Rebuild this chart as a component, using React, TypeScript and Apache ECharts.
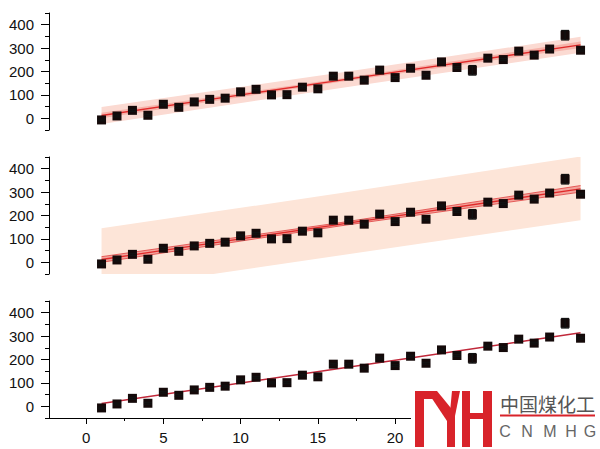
import React, { useEffect, useRef } from "react";
import * as echarts from "echarts";

// ---- data ----
const xs = [1, 2, 3, 4, 5, 6, 7, 8, 9, 10, 11, 12, 13, 14, 15, 16, 17, 18, 19, 20, 21, 22, 23, 24, 25, 26, 27, 28, 29, 30, 31, 32];
const ys = [-7, 10, 34, 13, 60, 47, 70, 81, 86, 113, 124, 100, 101, 133, 126, 180, 180, 163, 206, 174, 214, 184, 241, 217, 205, 257, 251, 287, 270, 296, 355, 291];
const errs = [4, 4, 4, 4, 4, 4, 4, 4, 4, 4, 4, 4, 4, 4, 4, 4, 4, 4, 4, 4, 4, 4, 4, 4, 20, 4, 4, 4, 4, 4, 20, 4];

const fitX = [1, 16.5, 32];
const fitY = [12, 163, 314];
const ciLow = [0, 156, 300];
const ciHigh = [24, 170, 328];
const pbTopLow = [-24, 130, 280];
const pbTopHigh = [48, 196, 348];
const pbMidLow = [-120, 30, 180];
const pbMidHigh = [145, 296, 452];

const xTicks = [0, 5, 10, 15, 20, 25, 30];
const xLabels = [0, 5, 10, 15, 20];
const xMinor = [2.5, 7.5, 12.5, 17.5, 22.5, 27.5, 32.5];
const yTicks = [0, 100, 200, 300, 400];
const yMinor = [-50, 50, 150, 250, 350, 450];

const FONT = "Liberation Sans, Arial, sans-serif";
const GRID_TOPS = [13, 157, 301];

function pairs(xa: number[], ya: number[]) {
  return xa.map((x, i) => [x, ya[i]]);
}

function bandSeries(g: number, low: number[], high: number[], color: string, z: number) {
  return {
    type: "custom", xAxisIndex: g * 2, yAxisIndex: g * 2, clip: true, silent: true, z,
    data: fitX.map((x, i) => [x, low[i], high[i]]),
    encode: { x: 0, y: [1, 2] },
    renderItem: (params: any, api: any) => {
      if (params.dataIndex !== 0) return null;
      const top = fitX.map((x, i) => api.coord([x, high[i]]));
      const bot = fitX.map((x, i) => api.coord([x, low[i]])).reverse();
      return { type: "polygon", shape: { points: top.concat(bot) }, style: { fill: color } };
    },
  };
}

function pointSeries(g: number) {
  return [
    {
      type: "scatter", xAxisIndex: g * 2, yAxisIndex: g * 2,
      data: pairs(xs, ys), symbol: "rect", symbolSize: 9,
      itemStyle: { color: "#140909", opacity: 1 }, z: 4,
    },
    {
      type: "custom", xAxisIndex: g * 2, yAxisIndex: g * 2,
      data: xs.map((x, i) => [x, ys[i], errs[i]]),
      encode: { x: 0, y: 1 }, z: 5,
      renderItem: (params: any, api: any) => {
        const x = api.value(0), y = api.value(1), e = api.value(2);
        const t = api.coord([x, y + e]);
        const b = api.coord([x, y - e]);
        const hw = 4;
        const st = { stroke: "#111", lineWidth: 1.4 };
        return {
          type: "group",
          children: [
            { type: "line", shape: { x1: t[0], y1: t[1], x2: b[0], y2: b[1] }, style: st },
            { type: "line", shape: { x1: t[0] - hw, y1: t[1], x2: t[0] + hw, y2: t[1] }, style: st },
            { type: "line", shape: { x1: b[0] - hw, y1: b[1], x2: b[0] + hw, y2: b[1] }, style: st },
          ],
        };
      },
    },
  ];
}

function lineSeries(g: number, ya: number[], color: string, width: number) {
  return {
    type: "line", xAxisIndex: g * 2, yAxisIndex: g * 2, data: pairs(fitX, ya),
    symbol: "none", lineStyle: { color, width }, silent: true, z: 3,
  };
}

export default function App() {
  const ref = useRef<HTMLDivElement>(null);
  useEffect(() => {
    document.body.style.margin = "0";
    const chart = echarts.init(ref.current!, null, { renderer: "svg" });

    const grids = GRID_TOPS.map((top) => ({ left: 49, width: 547, top, height: 117 }));
    const xAxis: any[] = [];
    const yAxis: any[] = [];
    GRID_TOPS.forEach((_, g) => {
      const bottom = g === 2;
      xAxis.push({
        type: "value", gridIndex: g, min: -2.4, max: 33, position: "bottom",
        show: bottom,
        axisLine: { show: true, onZero: false, lineStyle: { color: "#000", width: 1 } },
        axisTick: { show: true, inside: false, length: 6, customValues: xTicks, lineStyle: { color: "#000" } },
        axisLabel: { show: true, customValues: xLabels, fontSize: 15, color: "#111", fontFamily: FONT, margin: 12 },
        splitLine: { show: false },
      });
      xAxis.push({
        type: "value", gridIndex: g, min: -2.4, max: 33, position: "bottom",
        show: bottom,
        axisLine: { show: false, onZero: false },
        axisTick: { show: true, inside: false, length: 3, customValues: xMinor, lineStyle: { color: "#000" } },
        axisLabel: { show: false },
        splitLine: { show: false },
      });
      yAxis.push({
        type: "value", gridIndex: g, min: -50, max: 450, position: "left",
        axisLine: { show: true, onZero: false, lineStyle: { color: "#000", width: 1 } },
        axisTick: { show: true, inside: false, length: 8, customValues: yTicks, lineStyle: { color: "#000" } },
        axisLabel: { show: true, customValues: yTicks, fontSize: 15, color: "#111", fontFamily: FONT, margin: 15 },
        splitLine: { show: false },
      });
      yAxis.push({
        type: "value", gridIndex: g, min: -50, max: 450, position: "left",
        axisLine: { show: false, onZero: false },
        axisTick: { show: true, inside: false, length: 4, customValues: yMinor, lineStyle: { color: "#000" } },
        axisLabel: { show: false },
        splitLine: { show: false },
      });
    });

    const series: any[] = [
      // top panel
      bandSeries(0, pbTopLow, pbTopHigh, "#FBDAD2", 1),
      bandSeries(0, ciLow, ciHigh, "#F6B3AA", 2),
      lineSeries(0, fitY, "#E02A2A", 1.3),
      ...pointSeries(0),
      // middle panel
      bandSeries(1, pbMidLow, pbMidHigh, "#FDE5D8", 1),
      bandSeries(1, ciLow, ciHigh, "#F3A49C", 2),
      lineSeries(1, ciLow, "#E04040", 0.8),
      lineSeries(1, ciHigh, "#E04040", 0.8),
      lineSeries(1, fitY, "#E02A2A", 1.3),
      ...pointSeries(1),
      // bottom panel
      lineSeries(2, fitY, "#C0283A", 1.5),
      ...pointSeries(2),
    ];

    const red = "#D8232A";
    const graphic: any[] = [
      { type: "rect", z: 100, shape: { x: 411, y: 385, width: 189, height: 64 }, style: { fill: "#fff" } },
      { type: "rect", z: 101, shape: { x: 415, y: 391, width: 9, height: 56 }, style: { fill: red } },
      { type: "rect", z: 101, shape: { x: 415, y: 391, width: 20, height: 8 }, style: { fill: red } },
      { type: "polygon", z: 101, shape: { points: [[427, 391], [437, 391], [455, 413], [455, 421], [447, 421]] }, style: { fill: red } },
      { type: "polygon", z: 101, shape: { points: [[452, 391], [460, 391], [455, 416], [450, 412]] }, style: { fill: red } },
      { type: "rect", z: 101, shape: { x: 447, y: 412, width: 8, height: 35 }, style: { fill: red } },
      { type: "rect", z: 101, shape: { x: 462, y: 391, width: 8, height: 56 }, style: { fill: red } },
      { type: "rect", z: 101, shape: { x: 470, y: 413, width: 13, height: 6 }, style: { fill: red } },
      { type: "rect", z: 101, shape: { x: 483, y: 391, width: 9, height: 56 }, style: { fill: red } },
      {
        type: "text", z: 101, x: 500, y: 403,
        style: { text: "中国煤化工", font: '19px "Noto Sans CJK SC"', fill: "#555", textVerticalAlign: "middle", textAlign: "left" },
      },
      { type: "rect", z: 101, shape: { x: 500, y: 414.5, width: 95, height: 2 }, style: { fill: red } },
      ...["C", "N", "M", "H", "G"].map((ch, i) => ({
        type: "text", z: 101, x: [505, 527, 550, 571, 590][i], y: 431,
        style: { text: ch, font: "16px " + FONT, fill: "#666", textAlign: "center", textVerticalAlign: "middle" },
      })),
    ];

    chart.setOption({
      animation: false,
      backgroundColor: "#fff",
      grid: grids,
      xAxis,
      yAxis,
      series,
      graphic,
    });
    return () => chart.dispose();
  }, []);
  return <div ref={ref} style={{ width: 600, height: 449 }} />;
}
